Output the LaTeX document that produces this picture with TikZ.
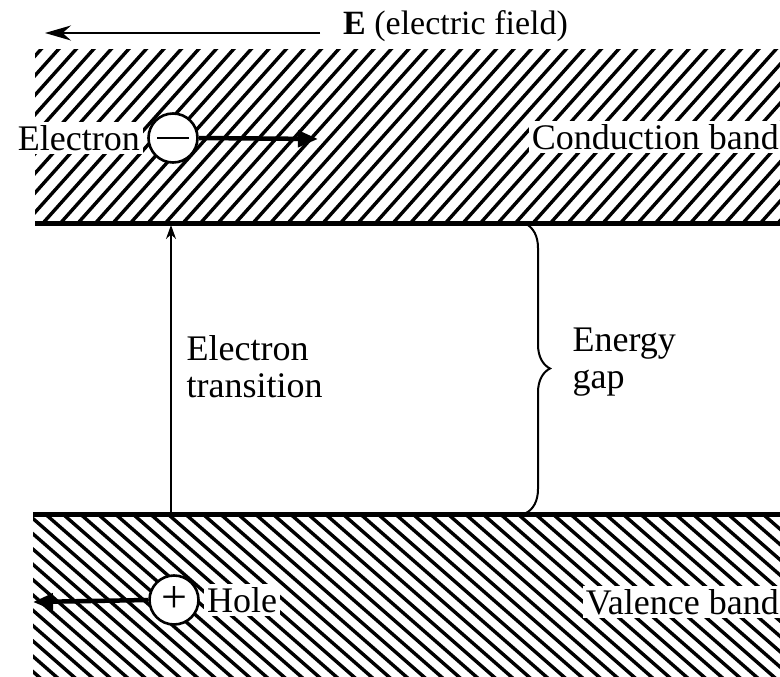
\documentclass[tikz,border=0pt]{standalone}
\usepackage{fontspec}
\setmainfont{Liberation Serif}
\usetikzlibrary{arrows.meta,decorations.pathreplacing}
\begin{document}
\begin{tikzpicture}[x=1pt,y=-1pt,
  every node/.style={font=\fontsize{36}{37}\selectfont},
  hatch/.style={line width=3.4pt},
  bandline/.style={line width=5pt},
  label/.style={fill=white,inner sep=3pt},
  charge/.style={circle,draw,line width=2.6pt,fill=white,minimum size=49pt,inner sep=0pt},
  thickarrow/.style={line width=4.5pt,-{Triangle[length=20pt,width=16pt]}},
  thinarrow/.style={line width=1.8pt,-{Stealth[length=14pt,width=10pt]}}
]
\useasboundingbox (0,0) rectangle (780,677);
% conduction band hatching
\begin{scope}
  \clip (35,50) rectangle (780,223);
  \foreach \i in {-12,...,46} \draw[hatch] ({\i*17.5},232) -- ++(170,-190);
\end{scope}
% valence band hatching
\begin{scope}
  \clip (33,514) rectangle (780,677);
  \foreach \i in {-14,...,46} \draw[hatch] ({\i*17.5},505) -- ++(200,175);
\end{scope}
% band edges
\coordinate (cbL) at (35,223);
\coordinate (cbR) at (780,223);
\coordinate (vbL) at (33,514);
\coordinate (vbR) at (780,514);
\draw[bandline] (cbL) -- (cbR);
\draw[bandline] (vbL) -- (vbR);
% electric field
\node[anchor=west,inner sep=0pt,font=\fontsize{34}{36}\selectfont] (E) at (343,26) {\textbf{E} (electric field)};
\coordinate (Estart) at (320,33);
\coordinate (Eend) at (45,33);
\draw[line width=2.2pt,-{Stealth[length=26pt,width=15pt]}] (Estart) -- (Eend);
% electron
\node[label,anchor=east] (eltxt) at (143,138) {Electron};
\node[charge] (el) at (173,138) {\rule{32pt}{2.4pt}};
\coordinate (elend) at (318,139);
\draw[thickarrow] (el.east) -- (elend);
\node[label,anchor=east,inner xsep=3pt] (cb) at (782,137) {Conduction band};
% hole
\node[charge,font=\fontsize{46}{46}\selectfont] (ho) at (174,600) {\raisebox{-4pt}{+}};
\node[label,anchor=west] (hotxt) at (204,600) {Hole};
\coordinate (hoend) at (33,602);
\draw[thickarrow] (ho.west) -- (hoend);
\node[label,anchor=east,inner xsep=3pt] (vb) at (782,602) {Valence band};
% transition
\coordinate (trB) at (171,514);
\coordinate (trT) at (171,225);
\draw[thinarrow] (trB) -- (trT);
\node[anchor=west,align=left] (trtxt) at (183,367) {Electron\\transition};
% energy gap brace
\coordinate (gT) at (526,224);
\coordinate (gB) at (526,513);
\draw[line width=2pt,decorate,decoration={brace,amplitude=24pt}] (gT) -- (gB);
\node[anchor=west,align=left] (gap) at (569,362) {Energy\\gap};
\end{tikzpicture}
\end{document}
